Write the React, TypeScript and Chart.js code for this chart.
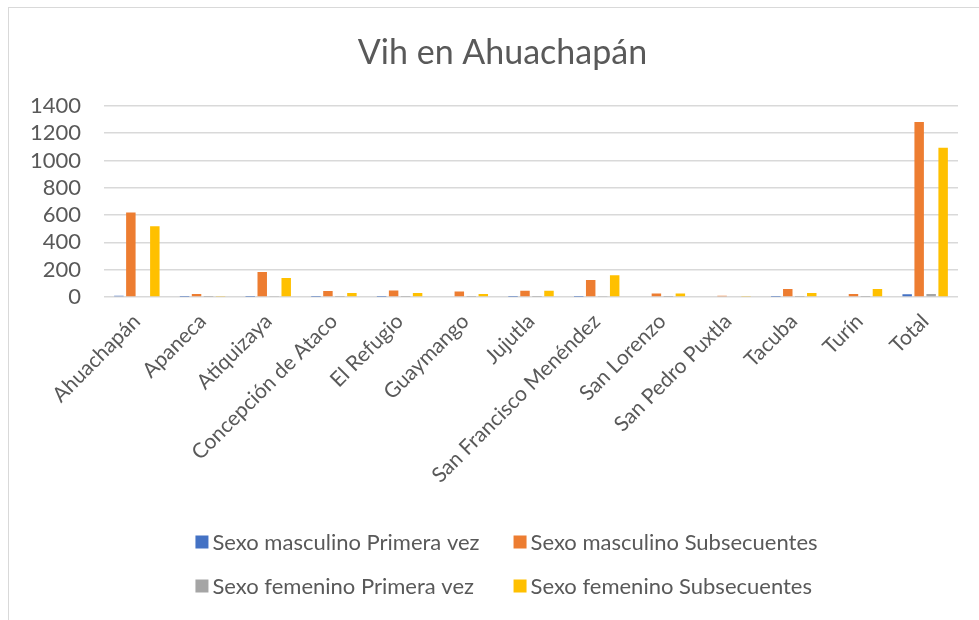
import React, { useEffect, useRef } from "react";
import { Chart, registerables } from "chart.js";

Chart.register(...registerables);

const categories = [
  "Ahuachapán",
  "Apaneca",
  "Atiquizaya",
  "Concepción de Ataco",
  "El Refugio",
  "Guaymango",
  "Jujutla",
  "San Francisco Menéndez",
  "San Lorenzo",
  "San Pedro Puxtla",
  "Tacuba",
  "Turín",
  "Total",
];

const seriesNames = [
  "Sexo masculino Primera vez",
  "Sexo masculino Subsecuentes",
  "Sexo femenino Primera vez",
  "Sexo femenino Subsecuentes",
];

const mascPrimera = [10, 1, 2, 2, 1, 0, 1, 2, 0, 0, 1, 0, 20];
const mascSubsecuentes = [618, 22, 183, 44, 47, 40, 45, 125, 25, 10, 58, 22, 1281];
const femPrimera = [6, 1, 3, 2, 1, 1, 1, 3, 1, 0, 1, 2, 22];
const femSubsecuentes = [518, 7, 139, 29, 30, 22, 45, 159, 25, 8, 30, 58, 1092];

const yMin = 0;
const yMax = 1400;
const yStep = 200;

const title = "Vih en Ahuachapán";

const colors = ["#4472C4", "#ED7D31", "#A5A5A5", "#FFC000"];
const FONT = "Lato";
const TEXT = "#595959";
const GRID = "#d9d9d9";

const legendPlugin = {
  id: "excelLegend",
  afterDraw(chart: any) {
    const ctx = chart.ctx;
    const ds = chart.data.datasets;
    ctx.save();
    ctx.font = `22px ${FONT}`;
    ctx.textBaseline = "middle";
    ctx.textAlign = "left";
    const box = 13;
    const gap = 4;
    const colGap = 34;
    const w = (i: number) => ctx.measureText(ds[i].label).width;
    const col1 = box + gap + Math.max(w(0), w(2));
    const col2 = box + gap + Math.max(w(1), w(3));
    const total = col1 + colGap + col2;
    const startX = chart.width / 2 - total / 2 + 4;
    const rowsY = [chart.height - 78, chart.height - 34];
    const order = [
      [0, 1],
      [2, 3],
    ];
    order.forEach((row, r) => {
      row.forEach((idx, c) => {
        const x = c === 0 ? startX : startX + col1 + colGap;
        const y = rowsY[r];
        ctx.fillStyle = ds[idx].backgroundColor;
        ctx.fillRect(x, y - box / 2, box, box);
        ctx.fillStyle = TEXT;
        ctx.fillText(ds[idx].label, x + box + gap, y + 1);
      });
    });
    ctx.restore();
  },
};

export default function App() {
  const ref = useRef<HTMLCanvasElement | null>(null);

  useEffect(() => {
    if (!ref.current) return;
    const series = [mascPrimera, mascSubsecuentes, femPrimera, femSubsecuentes];
    const chart = new Chart(ref.current, {
      type: "bar",
      data: {
        labels: categories,
        datasets: series.map((d, i) => ({
          label: seriesNames[i],
          data: d,
          backgroundColor: colors[i],
          borderWidth: 0,
          categoryPercentage: 0.73,
          barPercentage: 0.79,
          yAxisID: "y",
        })),
      },
      options: {
        responsive: false,
        animation: false,
        layout: { padding: { left: 0, right: 0, top: 0, bottom: 98 } },
        plugins: {
          legend: { display: false },
          tooltip: { enabled: false },
          title: {
            display: true,
            text: title,
            color: TEXT,
            font: { family: FONT, size: 34, weight: "normal" },
            padding: { top: 25, bottom: 32 },
          },
        },
        scales: {
          x: {
            grid: { display: false },
            border: { display: false },
            ticks: {
              color: TEXT,
              font: { family: FONT, size: 21 },
              maxRotation: 45,
              minRotation: 45,
              autoSkip: false,
              padding: 4,
            },
            afterFit: (scale: any) => {
              scale.height = 225;
            },
          },
          y: {
            min: yMin,
            max: yMax,
            grid: { color: GRID, lineWidth: 1.5, drawTicks: false },
            border: { display: false },
            ticks: {
              stepSize: yStep,
              autoSkip: false,
              color: TEXT,
              font: { family: FONT, size: 22 },
              padding: 23,
              callback: (v: any) => String(v),
            },
            afterFit: (scale: any) => {
              scale.width = 95;
            },
          },
          spacer: {
            type: "linear",
            position: "right",
            display: true,
            grid: { display: false },
            border: { display: false },
            ticks: { display: false },
            afterFit: (scale: any) => {
              scale.width = 38;
            },
          },
        },
      },
      plugins: [legendPlugin],
    });
    return () => chart.destroy();
  }, []);

  return (
    <div
      style={{
        position: "fixed",
        left: 8,
        top: 7,
        width: 988,
        height: 660,
        border: "1px solid #d9d9d9",
        background: "#fff",
        boxSizing: "border-box",
        overflow: "hidden",
      }}
    >
      <canvas ref={ref} width={987} height={612} style={{ display: "block" }} />
    </div>
  );
}
